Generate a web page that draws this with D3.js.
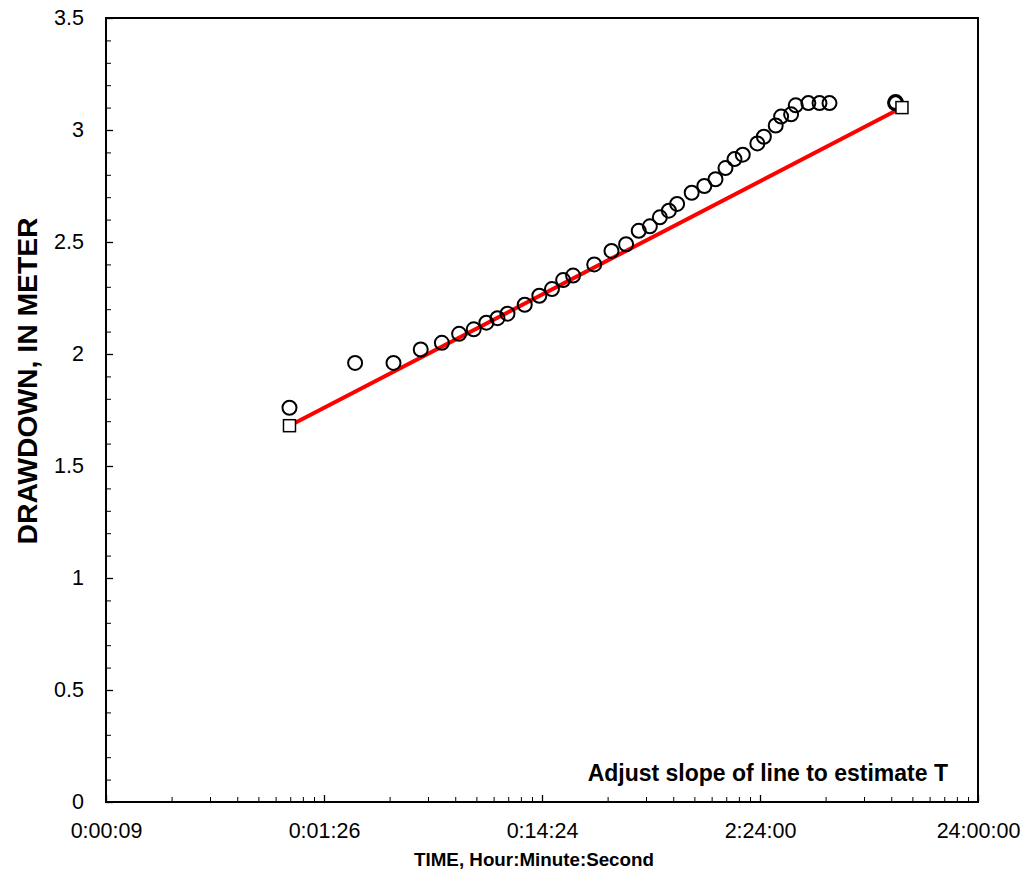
<!DOCTYPE html>
<html>
<head>
<meta charset="utf-8">
<script src="https://cdn.jsdelivr.net/npm/d3@7"></script>
<style>
  html, body { margin: 0; padding: 0; background: #fff; }
  svg { display: block; font-family: "Liberation Sans", Arial, sans-serif; }
</style>
</head>
<body>
<svg id="chart" width="1030" height="872"></svg>
<script>
// Elapsed time since pumping began (minutes) and measured drawdown (m)
const timeMinutes = [1, 2, 3, 4, 5, 6, 7, 8, 9, 10, 12, 14, 16, 18, 20, 25, 30, 35, 40, 45,
  50, 55, 60, 70, 80, 90, 100, 110, 120, 140, 150, 170, 180, 200, 210, 240, 270, 300, 600, 603, 606];
const drawdown = [1.76, 1.96, 1.96, 2.02, 2.05, 2.09, 2.11, 2.14, 2.16, 2.18, 2.22, 2.26, 2.29, 2.33, 2.35, 2.40, 2.46, 2.49, 2.55, 2.57,
  2.61, 2.64, 2.67, 2.72, 2.75, 2.78, 2.83, 2.87, 2.89, 2.94, 2.97, 3.02, 3.06, 3.07, 3.11, 3.12, 3.12, 3.12, 3.12, 3.125, 3.12];

// Straight-line (Cooper-Jacob) fit: two end points in minutes / metres
const fitTimeMinutes = [1, 645];
const fitDrawdown = [1.68, 3.10];

// Log time axis in days, labelled as H:MM:SS
const xTickDays = [0.0001, 0.001, 0.01, 0.1, 1];
const xTickLabels = ["0:00:09", "0:01:26", "0:14:24", "2:24:00", "24:00:00"];
const yTicks = [0, 0.5, 1, 1.5, 2, 2.5, 3, 3.5];
const yTickLabels = ["0", "0.5", "1", "1.5", "2", "2.5", "3", "3.5"];

const svg = d3.select("#chart");
const margin = { left: 106, top: 18, right: 1030 - 978, bottom: 872 - 802 };
const W = 1030 - margin.left - margin.right;
const H = 872 - margin.top - margin.bottom;
const g = svg.append("g").attr("transform", `translate(${margin.left},${margin.top})`);

const x = d3.scaleLog().domain([0.0001, 1]).range([0, W]);
const y = d3.scaleLinear().domain([0, 3.5]).range([H, 0]);
const toDay = m => m / 1440;

// Minor ticks (inward)
const xMinor = [];
for (let e = -4; e < 0; e++) for (let k = 2; k <= 9; k++) xMinor.push(k * Math.pow(10, e));
const yMinor = d3.range(0, 36).map(i => i / 10).filter(v => Math.abs(v * 2 - Math.round(v * 2)) > 1e-6);

g.append("g").attr("transform", `translate(0,${H})`)
  .call(d3.axisBottom(x).tickValues(xMinor).tickSize(-5).tickFormat(""))
  .call(a => a.select(".domain").remove())
  .selectAll("line").attr("stroke", "#000").attr("stroke-width", 1);
g.append("g")
  .call(d3.axisLeft(y).tickValues(yMinor).tickSize(-5).tickFormat(""))
  .call(a => a.select(".domain").remove())
  .selectAll("line").attr("stroke", "#000").attr("stroke-width", 1);

// Major ticks and labels
const xAxis = g.append("g").attr("transform", `translate(0,${H})`)
  .call(d3.axisBottom(x).tickValues(xTickDays).tickSize(-7).tickPadding(21)
    .tickFormat((d, i) => xTickLabels[i]));
xAxis.select(".domain").remove();
xAxis.selectAll("line").attr("stroke", "#000").attr("stroke-width", 1.3);
xAxis.selectAll("text").attr("font-size", 21.5).attr("fill", "#000")
  .attr("font-family", "Liberation Sans, Arial, sans-serif");

const yAxis = g.append("g")
  .call(d3.axisLeft(y).tickValues(yTicks).tickSize(-7).tickPadding(22)
    .tickFormat((d, i) => yTickLabels[i]));
yAxis.select(".domain").remove();
yAxis.selectAll("line").attr("stroke", "#000").attr("stroke-width", 1.3);
yAxis.selectAll("text").attr("font-size", 21.5).attr("fill", "#000")
  .attr("font-family", "Liberation Sans, Arial, sans-serif");

// Plot frame
g.append("rect").attr("x", 0).attr("y", 0).attr("width", W).attr("height", H)
  .attr("fill", "none").attr("stroke", "#000").attr("stroke-width", 2);

// Fitted line
const fitPts = fitTimeMinutes.map((t, i) => [x(toDay(t)), y(fitDrawdown[i])]);
g.append("path").attr("d", d3.line()(fitPts))
  .attr("stroke", "#ff0000").attr("stroke-width", 4).attr("fill", "none");

// Observed drawdown
g.selectAll("circle.obs").data(timeMinutes).enter().append("circle")
  .attr("class", "obs")
  .attr("cx", d => x(toDay(d)))
  .attr("cy", (d, i) => y(drawdown[i]))
  .attr("r", 7)
  .attr("fill", "none").attr("stroke", "#000").attr("stroke-width", 2);

// Line end handles
g.selectAll("rect.handle").data(fitPts).enter().append("rect")
  .attr("class", "handle")
  .attr("x", d => d[0] - 6).attr("y", d => d[1] - 6)
  .attr("width", 12).attr("height", 12)
  .attr("fill", "#fff").attr("stroke", "#000").attr("stroke-width", 1.5);

// Labels
g.append("text").attr("x", W - 30).attr("y", H - 21)
  .attr("text-anchor", "end").attr("font-weight", "bold").attr("font-size", 23)
  .text("Adjust slope of line to estimate T");

svg.append("text").attr("x", 534).attr("y", 866)
  .attr("text-anchor", "middle").attr("font-weight", "bold").attr("font-size", 18.8)
  .text("TIME, Hour:Minute:Second");

svg.append("text")
  .attr("transform", `translate(37,381) rotate(-90)`)
  .attr("text-anchor", "middle").attr("font-weight", "bold").attr("font-size", 28.3)
  .text("DRAWDOWN, IN METER");
</script>
</body>
</html>
